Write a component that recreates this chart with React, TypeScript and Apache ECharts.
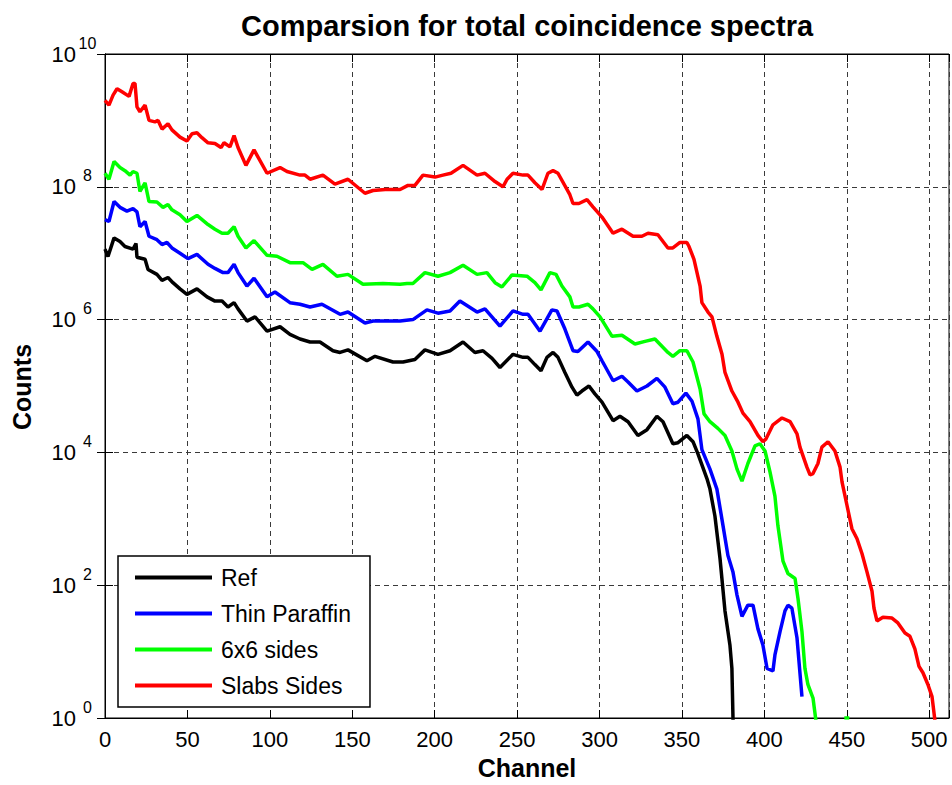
import React, { useEffect, useRef } from "react";
import * as echarts from "echarts";

const FONT = "'Liberation Sans', Arial, Helvetica, sans-serif";

const titleText = "Comparsion for total coincidence spectra";
const xName = "Channel";
const yName = "Counts";
const seriesNames = ["Ref", "Thin Paraffin", "6x6 sides", "Slabs Sides"];
const seriesColors = ["#000000", "#0000ff", "#00ff00", "#ff0000"];
const xTicks = [0, 50, 100, 150, 200, 250, 300, 350, 400, 450, 500];

// [channel, counts]
const refSpectrum: [number, number][] = [
  [0, 1.15e7], [1.8, 8.9e6], [5.5, 1.7e7], [9.1, 1.5e7], [12.1, 1.26e7], [17, 1.15e7], [18.8, 1.4e7],
  [19.4, 8.7e6], [24.3, 8.1e6], [26.1, 5.7e6], [31.5, 4.8e6], [34.6, 3.9e6], [38.2, 4.3e6], [41.2, 3.6e6],
  [45.5, 2.9e6], [49.7, 2.4e6], [55.8, 2.9e6], [61.9, 2.2e6], [66.7, 1.9e6], [71, 1.9e6], [74.6, 1.55e6],
  [78.3, 1.8e6], [80.7, 1.45e6], [86.1, 9.5e5], [91, 1.1e6], [98.3, 6.7e5], [106.2, 7.8e5], [112.2, 6.0e5],
  [118.3, 5.1e5], [124.4, 4.6e5], [130.4, 4.6e5], [138.3, 3.4e5], [142.6, 3.2e5], [147.4, 3.5e5],
  [158.9, 2.4e5], [163.8, 2.8e5], [174.7, 2.3e5], [180.8, 2.3e5], [188, 2.5e5], [194.1, 3.5e5],
  [202, 3.0e5], [209.3, 3.4e5], [217.2, 4.6e5], [224.4, 3.2e5], [229.3, 3.4e5], [234.8, 2.6e5],
  [239.6, 1.9e5], [247.5, 3.0e5], [253.6, 2.7e5], [256.6, 2.7e5], [260.8, 2.1e5], [264.5, 1.7e5],
  [268.1, 2.7e5], [271.8, 3.2e5], [274.8, 2.7e5], [279, 1.6e5], [283.3, 9.6e4], [286.3, 7.3e4],
  [289.3, 8.4e4], [293.6, 1.0e5], [297.2, 7.6e4], [301.5, 5.7e4], [308.2, 3.0e4], [312.4, 3.5e4],
  [317.3, 2.9e4], [323.3, 1.8e4], [328.8, 2.2e4], [334.8, 3.5e4], [338.5, 2.9e4], [344.5, 1.35e4],
  [347.6, 1.4e4], [353, 1.8e4], [356.7, 1.45e4], [359.7, 9.5e3], [365.2, 4.0e3], [367, 2.8e3],
  [370, 1.1e3], [373.1, 250], [376.1, 41], [379.1, 12.6], [380.3, 5.6], [381, 0.9],
];

const thinSpectrum: [number, number][] = [
  [0, 3.2e7], [2.4, 3.0e7], [5.5, 6.0e7], [9.1, 4.9e7], [13.3, 4.3e7], [17, 4.7e7], [19.4, 4.2e7],
  [21.2, 2.5e7], [24.3, 3.0e7], [26.7, 1.8e7], [31.5, 1.6e7], [34.6, 1.35e7], [37.6, 1.45e7], [40.6, 1.2e7],
  [45.5, 1.0e7], [50.3, 8.3e6], [55.8, 9.6e6], [62.5, 6.8e6], [66.7, 5.9e6], [71.6, 5.1e6], [74.6, 5.1e6],
  [78.3, 6.8e6], [80.7, 5.1e6], [86.1, 3.2e6], [90.4, 4.2e6], [98.3, 2.2e6], [103.1, 2.6e6], [112.2, 1.8e6],
  [118.3, 1.7e6], [124.4, 1.55e6], [131.6, 1.7e6], [142.6, 1.2e6], [147.4, 1.3e6], [157.7, 8.9e5],
  [162.6, 9.5e5], [179, 9.5e5], [186.8, 1.0e6], [195.3, 1.4e6], [202, 1.25e6], [209.3, 1.35e6],
  [215.3, 1.9e6], [225.7, 1.3e6], [230.5, 1.45e6], [239.6, 8.0e5], [247.5, 1.35e6], [253.6, 1.2e6],
  [256.6, 1.2e6], [263.9, 6.7e5], [271.1, 1.4e6], [274.2, 1.35e6], [279, 7.2e5], [283.9, 3.4e5],
  [286.9, 3.3e5], [293, 4.6e5], [298.5, 3.3e5], [301.5, 2.4e5], [308.2, 1.2e5], [313.6, 1.4e5],
  [317.3, 1.15e5], [322.7, 8.4e4], [328.8, 1.0e5], [334.8, 1.3e5], [339.7, 9.6e4], [344.5, 5.4e4],
  [347.6, 5.7e4], [352.4, 7.8e4], [356.1, 5.9e4], [359.7, 3.2e4], [362.1, 1.1e4], [367, 5.6e3],
  [371.2, 2.8e3], [374.9, 790], [377.9, 280], [380.9, 160], [383.4, 71], [386.4, 34], [390, 50],
  [393.1, 50], [396.1, 22], [399.1, 12.6], [401.6, 5.6], [405.2, 5.1], [406.4, 8.9], [409.5, 20],
  [412.5, 41], [414.3, 50], [416.7, 45], [419.8, 16], [422.8, 2.1],
];

const sidesSpectrum: [number, number][] = [
  [0, 1.6e8], [2.4, 1.3e8], [5.5, 2.4e8], [9.1, 1.95e8], [12.1, 1.75e8], [15.2, 1.5e8], [17, 1.7e8],
  [19.4, 1.6e8], [21.2, 8.5e7], [24.3, 1.15e8], [26.7, 6.0e7], [31.5, 5.9e7], [35.2, 4.9e7], [38.2, 5.4e7],
  [40.6, 4.5e7], [45.5, 3.8e7], [49.7, 3.0e7], [55.8, 3.7e7], [62.5, 2.7e7], [66.7, 2.3e7], [71, 2.0e7],
  [74.6, 2.0e7], [78.3, 2.5e7], [80.7, 1.8e7], [85.5, 1.2e7], [90.4, 1.55e7], [98.3, 9.3e6], [104.3, 9.0e6],
  [112.2, 7.2e6], [120.1, 7.2e6], [125.6, 5.7e6], [132.2, 6.8e6], [140.7, 4.5e6], [147.4, 4.8e6],
  [156.5, 3.4e6], [168.6, 3.5e6], [179, 3.4e6], [183.2, 3.5e6], [186.8, 3.5e6], [194.1, 5.1e6],
  [202, 4.5e6], [209.3, 5.1e6], [217.2, 6.6e6], [225.7, 4.8e6], [231.7, 5.1e6], [236.6, 3.6e6],
  [240.8, 3.1e6], [246.9, 4.7e6], [256, 4.5e6], [260.8, 3.6e6], [264.5, 2.8e6], [269.9, 5.1e6],
  [273.6, 4.8e6], [277.2, 3.2e6], [282, 2.2e6], [283.9, 1.55e6], [287.5, 1.55e6], [293, 1.7e6],
  [296, 1.45e6], [300.3, 1.1e6], [307.6, 5.6e5], [313.6, 5.8e5], [321.5, 4.3e5], [327.6, 4.7e5],
  [333.6, 5.1e5], [341.5, 3.2e5], [344.5, 2.8e5], [348.8, 3.4e5], [353, 3.4e5], [356.7, 2.3e5],
  [361, 9.0e4], [363.4, 3.8e4], [367, 2.9e4], [371.8, 2.3e4], [376.1, 1.8e4], [380.3, 1.05e4],
  [383.4, 5.6e3], [386.4, 3.7e3], [390, 6.8e3], [394.3, 1.25e4], [397.3, 1.35e4], [400.4, 1.05e4],
  [403.4, 5.1e3], [406.4, 2.2e3], [408.2, 790], [411.3, 230], [414.3, 150], [418.6, 126], [420.4, 63],
  [422.8, 20], [424.6, 5.6], [426.4, 3.2], [429.5, 2.0], [431.3, 0.9],
];
const sidesTail: [number, number][] = [[448.5, 1.0], [451.5, 1.0]];

const slabsSpectrum: [number, number][] = [
  [0, 2.0e9], [2.4, 1.7e9], [4.9, 2.4e9], [7.3, 3.0e9], [10.3, 2.7e9], [14.6, 2.3e9], [17, 3.6e9],
  [18.2, 3.6e9], [19.4, 1.6e9], [21.2, 1.35e9], [24.3, 1.7e9], [26.7, 1.0e9], [30.3, 9.5e8], [32.2, 1.0e9],
  [34.6, 7.4e8], [38.2, 8.9e8], [40.6, 7.2e8], [45.5, 5.6e8], [49.7, 4.9e8], [52.8, 6.3e8], [55.8, 6.5e8],
  [58.8, 5.5e8], [62.5, 4.6e8], [66.7, 4.5e8], [70.4, 3.9e8], [72.2, 4.6e8], [75.8, 4.0e8], [78.3, 5.9e8],
  [80.7, 3.9e8], [85.5, 2.1e8], [90.4, 3.6e8], [98.3, 1.6e8], [106.2, 1.95e8], [110.4, 1.7e8],
  [118.3, 1.5e8], [121.3, 1.5e8], [124.4, 1.3e8], [132.2, 1.5e8], [139.5, 1.1e8], [147.4, 1.3e8],
  [157.7, 8.0e7], [162.6, 8.8e7], [170, 9.1e7], [179, 9.1e7], [183.8, 1.05e8], [188, 1.05e8],
  [192.9, 1.5e8], [200.2, 1.4e8], [205, 1.5e8], [209.9, 1.6e8], [217.2, 2.1e8], [225.7, 1.5e8],
  [230.5, 1.6e8], [236.6, 1.2e8], [241.4, 1.0e8], [243.9, 1.3e8], [247.5, 1.6e8], [253.6, 1.5e8],
  [256.6, 1.5e8], [260.8, 1.15e8], [265.1, 9.1e7], [268.7, 1.6e8], [271.8, 1.75e8], [274.8, 1.6e8],
  [282, 7.6e7], [283.9, 5.6e7], [287.5, 5.6e7], [292.4, 6.4e7], [296, 5.0e7], [301.5, 3.5e7],
  [308.2, 2.0e7], [313.6, 2.3e7], [320.3, 1.8e7], [325.7, 1.8e7], [329.4, 2.0e7], [335.4, 1.9e7],
  [341.5, 1.2e7], [344.5, 1.2e7], [348.8, 1.45e7], [353, 1.45e7], [354.3, 1.26e7], [357.3, 8.1e6],
  [361, 3.2e6], [362.1, 1.8e6], [365.8, 1.3e6], [368.2, 1.1e6], [371.2, 5.6e5], [374.3, 3.0e5],
  [376.1, 1.6e5], [380.3, 8.4e4], [384, 5.7e4], [387, 3.9e4], [391.3, 2.9e4], [396.1, 1.8e4],
  [399.1, 1.45e4], [401, 1.6e4], [405.2, 2.6e4], [410.7, 3.3e4], [415.6, 2.9e4], [419.8, 1.9e4],
  [421.6, 1.2e4], [425.8, 6.0e3], [427.7, 4.6e3], [429.5, 4.8e3], [432.5, 6.8e3], [434.9, 1.2e4],
  [438.6, 1.45e4], [442.8, 1.05e4], [445.9, 6.0e3], [447.1, 3.6e3], [450.1, 1.6e3], [453.1, 710],
  [456.2, 500], [459.2, 300], [462.2, 160], [465.3, 81], [466.5, 45], [468.3, 29], [471.9, 33],
  [477.4, 32], [481, 27], [485.3, 19], [488.3, 17], [491.3, 11], [493.8, 6.0], [496.2, 4.8],
  [499.2, 3.2], [501.7, 2.1], [503.5, 0.9],
];

export default function App() {
  const ref = useRef<HTMLDivElement>(null);

  useEffect(() => {
    if (!ref.current) return;
    const chart = echarts.init(ref.current, undefined, { renderer: "svg" });

    const gridLine = { show: true, lineStyle: { color: "#3a3a3a", type: [5, 4] as any, width: 1 } };
    const axisLine = { show: true, lineStyle: { color: "#000", width: 1 } };
    const tick = { show: true, inside: true, length: 8, lineStyle: { color: "#000", width: 1 } };

    const datasets = [
      refSpectrum,
      thinSpectrum,
      [...sidesSpectrum, [440, "-"], ...sidesTail],
      slabsSpectrum,
    ];

    chart.setOption({
      animation: false,
      backgroundColor: "#fff",
      textStyle: { fontFamily: FONT },
      grid: {
        left: 105,
        right: 3,
        top: 54,
        bottom: 65,
        show: true,
        borderColor: "#000",
        borderWidth: 1,
        backgroundColor: "#fff",
      },
      graphic: [
        {
          type: "text",
          x: 527,
          y: 26,
          style: {
            text: titleText,
            align: "center",
            verticalAlign: "middle",
            font: `bold 29px ${FONT}`,
            fill: "#000",
          },
        },
        {
          type: "text",
          x: 22,
          y: 387,
          rotation: Math.PI / 2,
          style: {
            text: yName,
            align: "center",
            verticalAlign: "middle",
            font: `bold 25px ${FONT}`,
            fill: "#000",
          },
        },
      ],
      xAxis: [
        {
          type: "value",
          min: 0,
          max: 512,
          interval: 50,
          position: "bottom",
          name: xName,
          nameLocation: "middle",
          nameGap: 37,
          nameTextStyle: { fontSize: 25, fontWeight: "bold", color: "#000", fontFamily: FONT },
          axisLine,
          axisTick: tick,
          splitLine: gridLine,
          axisLabel: {
            fontSize: 22,
            color: "#000",
            fontFamily: FONT,
            margin: 10,
            formatter: (v: number) => (xTicks.includes(v) ? String(v) : ""),
          },
        },
        {
          type: "value",
          min: 0,
          max: 512,
          interval: 50,
          position: "top",
          axisLine,
          axisTick: tick,
          splitLine: { show: false },
          axisLabel: { show: false },
        },
      ],
      yAxis: [
        {
          type: "log",
          logBase: 10,
          min: 1,
          max: 1e10,
          interval: 2,
          axisLine,
          axisTick: tick,
          splitLine: gridLine,
          minorTick: { show: false },
          axisLabel: {
            margin: 7,
            formatter: (v: number) => `{b|10}{e|${Math.round(Math.log10(v))}}`,
            rich: {
              b: { fontSize: 22, color: "#000", fontFamily: FONT },
              e: { fontSize: 16, color: "#000", fontFamily: FONT, width: 21, align: "left", padding: [0, 0, 22, 1] },
            },
          },
        },
        {
          type: "log",
          logBase: 10,
          min: 1,
          max: 1e10,
          interval: 2,
          position: "right",
          axisLine,
          axisTick: tick,
          splitLine: { show: false },
          axisLabel: { show: false },
        },
      ],
      legend: {
        orient: "vertical",
        left: 118,
        top: 556,
        itemWidth: 77,
        itemHeight: 4,
        itemGap: 13,
        icon: "rect",
        padding: [10, 19, 10, 17],
        borderColor: "#000",
        borderWidth: 1.5,
        borderRadius: 0,
        backgroundColor: "#fff",
        textStyle: { fontSize: 23, color: "#000", fontFamily: FONT, padding: [0, 0, 0, 4] },
        data: seriesNames,
      },
      series: seriesNames.map((name, i) => ({
        name,
        type: "line",
        data: datasets[i],
        showSymbol: false,
        symbol: "none",
        connectNulls: false,
        clip: true,
        color: seriesColors[i],
        lineStyle: { width: 3.5, color: seriesColors[i] },
        z: 2 + i,
      })),
    });

    return () => chart.dispose();
  }, []);

  return (
    <div
      ref={ref}
      style={{ position: "fixed", left: 0, top: 0, width: 952, height: 785, background: "#fff" }}
    />
  );
}
